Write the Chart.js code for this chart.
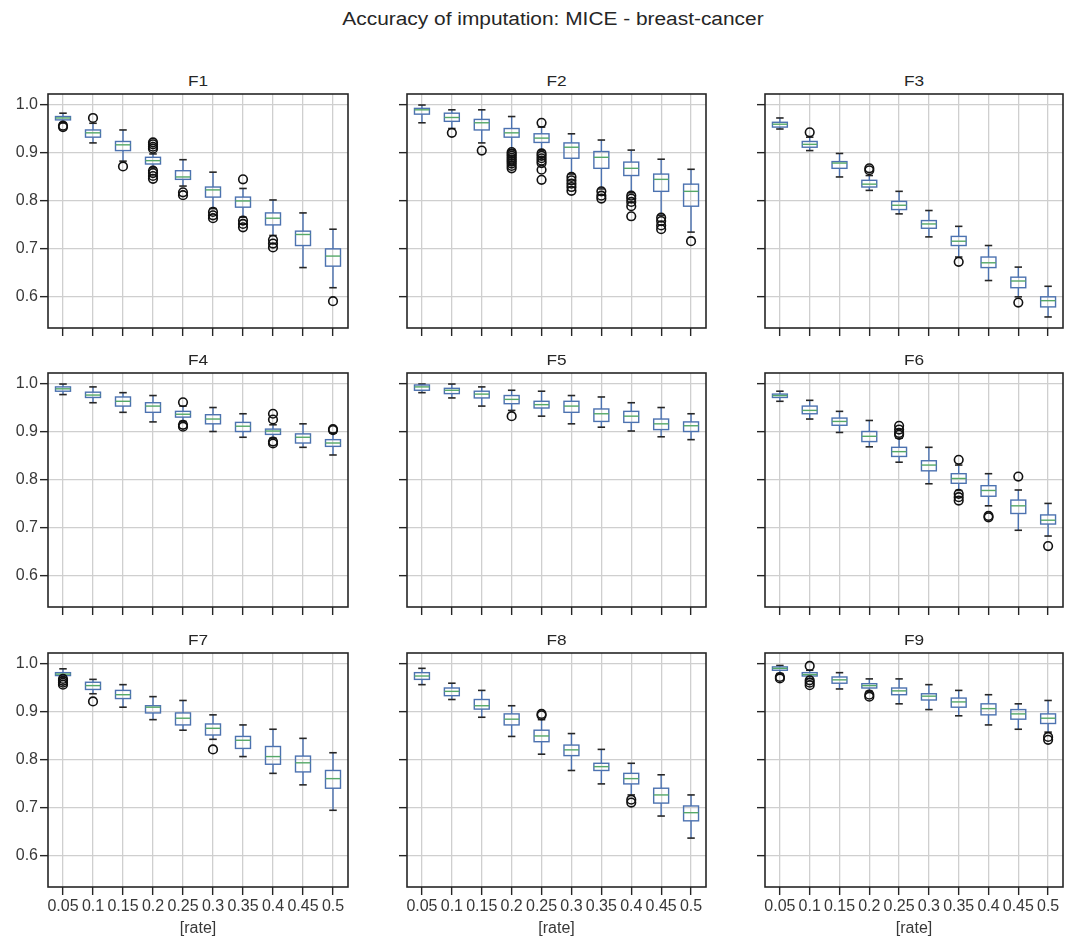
<!DOCTYPE html>
<html>
<head>
<meta charset="utf-8">
<script src="https://cdn.jsdelivr.net/npm/chart.js@4.4.1/dist/chart.umd.min.js"></script>
<style>
  body { margin: 0; background: #fff; }
  #figure { position: relative; width: 1068px; height: 936px; overflow: hidden; background: #fff;
            font-family: 'Liberation Sans', Arial, sans-serif; color: #262626; }
  #figure canvas { position: absolute; }
  .suptitle { position: absolute; top: 9px; left: 0; width: 1106px; text-align: center; font-size: 18px;
              transform: scaleX(1.16); transform-origin: 553px 0; }
  .panel-title { position: absolute; font-size: 15px; text-align: center; line-height: 16px;
                 transform: scaleX(1.15); }
</style>
</head>
<body>
<div id="figure">
  <div class="suptitle">Accuracy of imputation: MICE - breast-cancer</div>
</div>
<script>
const rates = ['0.05', '0.1', '0.15', '0.2', '0.25', '0.3', '0.35', '0.4', '0.45', '0.5'];
const featureNames = ['F1', 'F2', 'F3', 'F4', 'F5', 'F6', 'F7', 'F8', 'F9'];
const yTickValues = [0.6, 0.7, 0.8, 0.9, 1.0];
const Y_MIN = 0.535;
const Y_MAX = 1.023;

// per rate: [lower whisker, q1, median, q3, upper whisker]
const f1Boxes = [
  [0.963, 0.969, 0.973, 0.976, 0.983],
  [0.921, 0.933, 0.942, 0.948, 0.962],
  [0.883, 0.905, 0.917, 0.924, 0.948],
  [0.869, 0.877, 0.884, 0.891, 0.898],
  [0.831, 0.845, 0.850, 0.863, 0.886],
  [0.784, 0.808, 0.823, 0.829, 0.860],
  [0.766, 0.787, 0.800, 0.808, 0.826],
  [0.728, 0.750, 0.764, 0.775, 0.802],
  [0.661, 0.707, 0.730, 0.737, 0.775],
  [0.619, 0.664, 0.685, 0.700, 0.741],
];
const f1Fliers = [
  [0.954, 0.957], [0.973], [0.872],
  [0.922, 0.918, 0.913, 0.909, 0.863, 0.858, 0.852, 0.846],
  [0.818, 0.812], [0.777, 0.770, 0.764], [0.845, 0.759, 0.752, 0.745],
  [0.719, 0.711, 0.703], [], [0.591],
];

const f2Boxes = [
  [0.963, 0.981, 0.990, 0.993, 1.000],
  [0.951, 0.966, 0.974, 0.983, 0.990],
  [0.921, 0.948, 0.963, 0.970, 0.990],
  [0.907, 0.933, 0.942, 0.951, 0.976],
  [0.905, 0.922, 0.931, 0.940, 0.954],
  [0.856, 0.889, 0.912, 0.921, 0.940],
  [0.825, 0.868, 0.891, 0.903, 0.927],
  [0.817, 0.853, 0.868, 0.881, 0.906],
  [0.770, 0.820, 0.845, 0.856, 0.887],
  [0.735, 0.789, 0.820, 0.835, 0.866],
];
const f2Fliers = [
  [], [0.942], [0.905],
  [0.902, 0.898, 0.894, 0.890, 0.886, 0.882, 0.878, 0.873, 0.868],
  [0.963, 0.899, 0.894, 0.889, 0.884, 0.879, 0.865, 0.844],
  [0.850, 0.843, 0.836, 0.829, 0.821],
  [0.820, 0.811, 0.805],
  [0.811, 0.805, 0.798, 0.789, 0.768],
  [0.765, 0.758, 0.749, 0.741],
  [0.716],
];

const f3Boxes = [
  [0.950, 0.954, 0.960, 0.964, 0.973],
  [0.905, 0.912, 0.918, 0.924, 0.933],
  [0.850, 0.868, 0.879, 0.882, 0.899],
  [0.822, 0.829, 0.835, 0.843, 0.853],
  [0.773, 0.782, 0.791, 0.799, 0.820],
  [0.725, 0.743, 0.752, 0.759, 0.780],
  [0.683, 0.707, 0.716, 0.726, 0.747],
  [0.634, 0.661, 0.671, 0.683, 0.707],
  [0.600, 0.619, 0.633, 0.641, 0.662],
  [0.558, 0.579, 0.592, 0.600, 0.622],
];
const f3Fliers = [[], [0.943], [], [0.868, 0.864], [], [], [0.673], [], [0.588], []];

const f4Boxes = [
  [0.978, 0.985, 0.990, 0.994, 1.000],
  [0.961, 0.972, 0.977, 0.983, 0.994],
  [0.941, 0.954, 0.964, 0.973, 0.982],
  [0.921, 0.941, 0.954, 0.961, 0.976],
  [0.922, 0.931, 0.937, 0.943, 0.954],
  [0.901, 0.917, 0.927, 0.936, 0.951],
  [0.889, 0.901, 0.912, 0.920, 0.938],
  [0.887, 0.895, 0.902, 0.906, 0.915],
  [0.868, 0.877, 0.889, 0.896, 0.917],
  [0.852, 0.870, 0.877, 0.884, 0.898],
];
const f4Fliers = [
  [], [], [], [], [0.962, 0.915, 0.911], [], [],
  [0.938, 0.926, 0.880, 0.876], [], [0.906, 0.904],
];

const f5Boxes = [
  [0.982, 0.987, 0.994, 0.998, 1.000],
  [0.971, 0.980, 0.987, 0.991, 1.000],
  [0.954, 0.971, 0.979, 0.985, 0.994],
  [0.945, 0.959, 0.968, 0.976, 0.987],
  [0.933, 0.950, 0.957, 0.964, 0.985],
  [0.917, 0.941, 0.954, 0.964, 0.976],
  [0.910, 0.922, 0.938, 0.948, 0.973],
  [0.902, 0.920, 0.933, 0.943, 0.961],
  [0.890, 0.905, 0.917, 0.927, 0.951],
  [0.884, 0.901, 0.913, 0.921, 0.938],
];
const f5Fliers = [[], [], [], [0.933], [], [], [], [], [], []];

const f6Boxes = [
  [0.964, 0.972, 0.976, 0.979, 0.985],
  [0.927, 0.938, 0.945, 0.954, 0.966],
  [0.899, 0.914, 0.922, 0.929, 0.943],
  [0.869, 0.880, 0.891, 0.901, 0.924],
  [0.837, 0.849, 0.859, 0.868, 0.887],
  [0.792, 0.819, 0.831, 0.840, 0.868],
  [0.778, 0.793, 0.803, 0.813, 0.831],
  [0.746, 0.766, 0.778, 0.788, 0.813],
  [0.695, 0.730, 0.746, 0.758, 0.779],
  [0.683, 0.708, 0.716, 0.727, 0.751],
];
const f6Fliers = [
  [], [], [], [], [0.913, 0.905, 0.898, 0.894], [],
  [0.842, 0.771, 0.764, 0.757], [0.725, 0.722], [0.807], [0.662],
];

const f7Boxes = [
  [0.972, 0.976, 0.979, 0.982, 0.990],
  [0.938, 0.947, 0.955, 0.962, 0.968],
  [0.910, 0.928, 0.936, 0.945, 0.957],
  [0.884, 0.898, 0.910, 0.913, 0.932],
  [0.862, 0.873, 0.887, 0.898, 0.924],
  [0.843, 0.852, 0.866, 0.875, 0.894],
  [0.807, 0.824, 0.841, 0.849, 0.873],
  [0.772, 0.791, 0.807, 0.828, 0.864],
  [0.748, 0.775, 0.794, 0.808, 0.845],
  [0.695, 0.741, 0.761, 0.778, 0.815],
];
const f7Fliers = [
  [0.969, 0.965, 0.961, 0.957], [0.922], [], [], [], [0.822], [], [], [], [],
];

const f8Boxes = [
  [0.957, 0.968, 0.975, 0.982, 0.991],
  [0.926, 0.934, 0.943, 0.950, 0.960],
  [0.889, 0.906, 0.913, 0.926, 0.945],
  [0.849, 0.873, 0.885, 0.896, 0.913],
  [0.812, 0.838, 0.850, 0.862, 0.884],
  [0.778, 0.809, 0.821, 0.831, 0.855],
  [0.750, 0.778, 0.786, 0.793, 0.822],
  [0.727, 0.750, 0.761, 0.772, 0.793],
  [0.683, 0.710, 0.727, 0.741, 0.769],
  [0.637, 0.673, 0.690, 0.704, 0.727],
];
const f8Fliers = [[], [], [], [], [0.896, 0.893], [], [], [0.717, 0.711], [], []];

const f9Boxes = [
  [0.980, 0.987, 0.991, 0.994, 0.997],
  [0.970, 0.975, 0.978, 0.982, 0.987],
  [0.948, 0.960, 0.967, 0.973, 0.982],
  [0.943, 0.950, 0.955, 0.959, 0.969],
  [0.917, 0.936, 0.944, 0.950, 0.969],
  [0.905, 0.925, 0.933, 0.938, 0.957],
  [0.892, 0.910, 0.921, 0.929, 0.945],
  [0.873, 0.894, 0.907, 0.917, 0.936],
  [0.864, 0.885, 0.896, 0.905, 0.917],
  [0.858, 0.876, 0.887, 0.896, 0.924],
];
const f9Fliers = [
  [0.973, 0.970], [0.996, 0.966, 0.961, 0.956], [], [0.936, 0.932],
  [], [], [], [], [], [0.848, 0.842],
];

const allBoxes = [f1Boxes, f2Boxes, f3Boxes, f4Boxes, f5Boxes, f6Boxes, f7Boxes, f8Boxes, f9Boxes];
const allFliers = [f1Fliers, f2Fliers, f3Fliers, f4Fliers, f5Fliers, f6Fliers, f7Fliers, f8Fliers, f9Fliers];

// grid geometry (plot area of each subplot, in page pixels)
const colLeft = [48, 407, 765];
const colWidth = [300, 299, 298];
const rowTop = [94, 373, 653];
const rowHeight = 234;
const Y_AXIS_W = 48;
const PAD_TOP = 12;
const PAD_RIGHT = 22;
const X_AXIS_H = 52;

const BOX_COLOR = '#4c72b0';
const MEDIAN_COLOR = '#55a868';
const CAP_COLOR = '#262626';
const FRAME_COLOR = '#262626';
const GRID_COLOR = '#cfcfcf';
const TEXT_COLOR = '#383838';

Chart.defaults.font.family = "'Liberation Sans', Arial, sans-serif";
Chart.defaults.font.size = 16;
Chart.defaults.color = TEXT_COLOR;

function makeBoxPlugin(boxes) {
  return {
    id: 'boxes',
    beforeDatasetsDraw(chart) {
      const { ctx, scales: { x, y } } = chart;
      const line = (x1, y1, x2, y2, color) => {
        ctx.strokeStyle = color;
        ctx.beginPath();
        ctx.moveTo(x1, y1);
        ctx.lineTo(x2, y2);
        ctx.stroke();
      };
      ctx.save();
      ctx.lineWidth = 1.4;
      boxes.forEach((b, i) => {
        const pos = i + 1;
        const [lo, q1, med, q3, hi] = b.map((v) => y.getPixelForValue(v));
        const xc = x.getPixelForValue(pos);
        const xl = x.getPixelForValue(pos - 0.25);
        const xr = x.getPixelForValue(pos + 0.25);
        const cl = x.getPixelForValue(pos - 0.125);
        const cr = x.getPixelForValue(pos + 0.125);
        line(xc, q1, xc, lo, BOX_COLOR);
        line(xc, q3, xc, hi, BOX_COLOR);
        ctx.lineWidth = 1.6;
        line(cl, lo, cr, lo, CAP_COLOR);
        line(cl, hi, cr, hi, CAP_COLOR);
        ctx.lineWidth = 1.4;
        ctx.strokeStyle = BOX_COLOR;
        ctx.strokeRect(xl, q3, xr - xl, q1 - q3);
        line(xl, med, xr, med, MEDIAN_COLOR);
      });
      ctx.restore();
    },
    afterDraw(chart) {
      const { ctx, chartArea: a } = chart;
      ctx.save();
      ctx.strokeStyle = FRAME_COLOR;
      ctx.lineWidth = 1.6;
      ctx.strokeRect(a.left, a.top, a.right - a.left, a.bottom - a.top);
      ctx.restore();
    },
  };
}

function renderPanel(index) {
  const row = Math.floor(index / 3);
  const col = index % 3;
  const isLeft = col === 0;
  const isBottom = row === 2;
  const fig = document.getElementById('figure');

  const title = document.createElement('div');
  title.className = 'panel-title';
  title.textContent = featureNames[index];
  title.style.left = colLeft[col] + 'px';
  title.style.width = colWidth[col] + 'px';
  title.style.top = (rowTop[row] - 21) + 'px';
  fig.appendChild(title);

  const canvas = document.createElement('canvas');
  const w = Y_AXIS_W + colWidth[col] + PAD_RIGHT;
  const h = PAD_TOP + rowHeight + X_AXIS_H;
  canvas.width = w;
  canvas.height = h;
  canvas.style.left = (colLeft[col] - Y_AXIS_W) + 'px';
  canvas.style.top = (rowTop[row] - PAD_TOP) + 'px';
  canvas.style.width = w + 'px';
  canvas.style.height = h + 'px';
  fig.appendChild(canvas);

  const fliers = [];
  allFliers[index].forEach((vals, i) => {
    vals.forEach((v) => fliers.push({ x: i + 1, y: v }));
  });

  new Chart(canvas.getContext('2d'), {
    type: 'scatter',
    data: {
      datasets: [
        {
          data: fliers,
          pointStyle: 'circle',
          pointRadius: 4.3,
          pointBorderWidth: 1.6,
          borderColor: '#111111',
          backgroundColor: 'rgba(0,0,0,0)',
        },
      ],
    },
    options: {
      responsive: false,
      animation: false,
      events: [],
      layout: { padding: { top: PAD_TOP, right: PAD_RIGHT, left: 0, bottom: 0 } },
      plugins: { legend: { display: false }, tooltip: { enabled: false } },
      scales: {
        x: {
          type: 'linear',
          min: 0.5,
          max: 10.5,
          afterBuildTicks: (scale) => {
            scale.ticks = rates.map((_, i) => ({ value: i + 1 }));
          },
          afterFit: (scale) => { scale.height = X_AXIS_H; },
          grid: { color: GRID_COLOR, lineWidth: 1.3, tickColor: FRAME_COLOR, tickWidth: 1.4, tickLength: 8 },
          border: { display: false },
          ticks: {
            display: isBottom,
            padding: 2,
            maxRotation: 0,
            autoSkip: false,
            callback: (value) => rates[value - 1],
          },
          title: {
            display: isBottom,
            text: '[rate]',
            color: TEXT_COLOR,
            padding: { top: 0, bottom: 1 },
          },
        },
        y: {
          min: Y_MIN,
          max: Y_MAX,
          afterBuildTicks: (scale) => {
            scale.ticks = yTickValues.map((v) => ({ value: v }));
          },
          afterFit: (scale) => { scale.width = Y_AXIS_W; },
          grid: { color: GRID_COLOR, lineWidth: 1.3, tickColor: FRAME_COLOR, tickWidth: 1.4, tickLength: 8 },
          border: { display: false },
          ticks: {
            display: isLeft,
            padding: 2,
            callback: (value) => value.toFixed(1),
          },
        },
      },
    },
    plugins: [makeBoxPlugin(allBoxes[index])],
  });
}

featureNames.forEach((_, i) => renderPanel(i));
</script>
</body>
</html>
